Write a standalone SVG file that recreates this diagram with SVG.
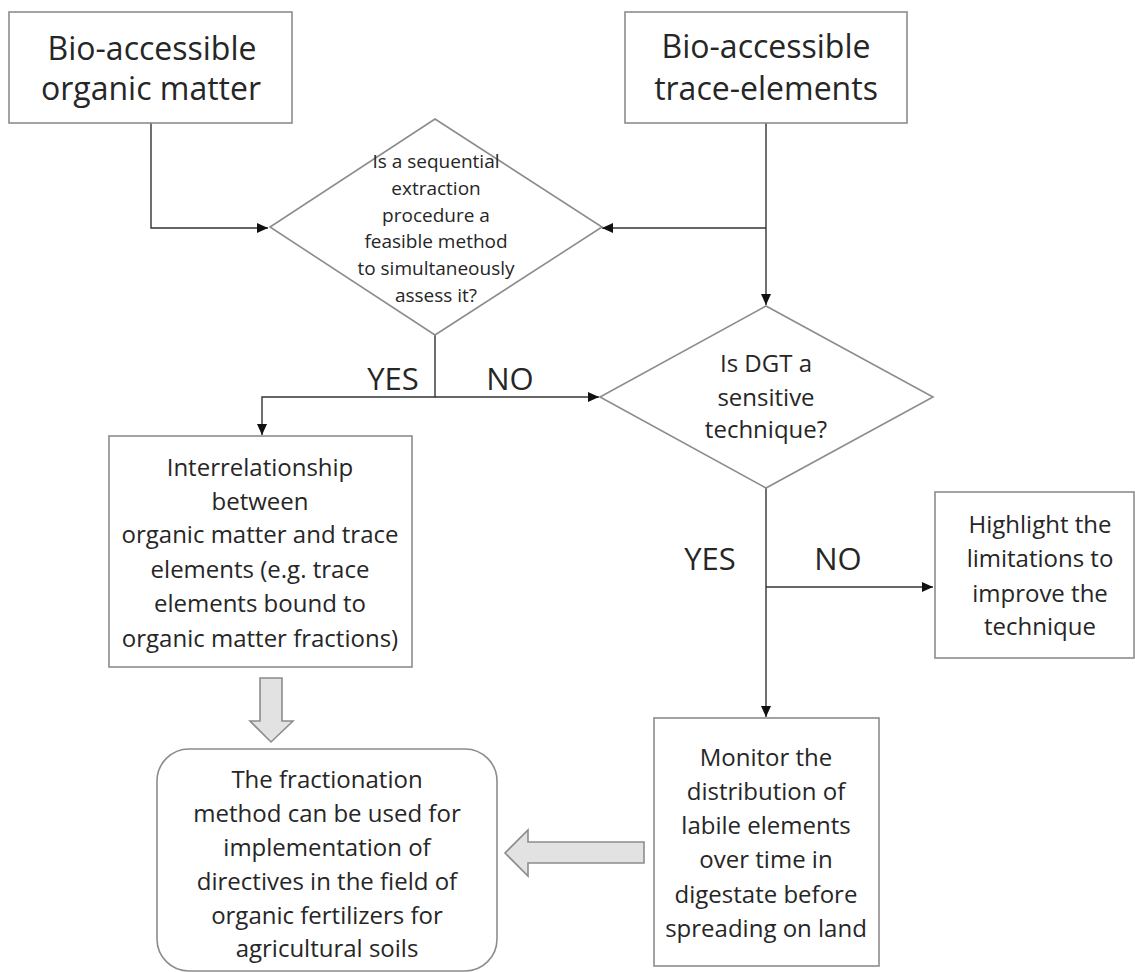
<svg xmlns="http://www.w3.org/2000/svg" width="1135" height="972" viewBox="0 0 1135 972">
<style>
.box{fill:#fff;stroke:#8c8c8c;stroke-width:1.6}
.dia{fill:#fff;stroke:#8c8c8c;stroke-width:1.6}
.big{fill:#e2e2e2;stroke:#8c8c8c;stroke-width:1.6}
.con{fill:none;stroke:#333;stroke-width:1.4}
text{font-family:"Open Sans","Noto Sans","Liberation Sans",sans-serif;fill:#262626;text-anchor:middle}
.t32{font-size:32px}
.t19{font-size:19px}
.t24{font-size:24px}
.lab{font-size:31px}
</style>
<defs>
<marker id="ah" markerUnits="userSpaceOnUse" markerWidth="12" markerHeight="10" refX="11" refY="5" orient="auto">
<path d="M0,0 L11,5 L0,10 Z" fill="#111"/>
</marker>
</defs>
<g id="connectors">
<path class="con" d="M151,123 V228 H268" marker-end="url(#ah)"/>
<path class="con" d="M766,123 V305" marker-end="url(#ah)"/>
<path class="con" d="M766,228 H602" marker-end="url(#ah)"/>
<path class="con" d="M435,335 V397 H262 V435" marker-end="url(#ah)"/>
<path class="con" d="M435,397 H599" marker-end="url(#ah)"/>
<path class="con" d="M766,488 V717" marker-end="url(#ah)"/>
<path class="con" d="M766,587 H933" marker-end="url(#ah)"/>
<polygon class="big" points="260,678 282,678 282,721 293,721 271,742 250,721 260,721"/>
<polygon class="big" points="644,842 644,863 528,863 528,876 505,853 528,830 528,842"/>
<text class="lab" x="393" y="390">YES</text>
<text class="lab" x="510" y="390">NO</text>
<text class="lab" x="710" y="570">YES</text>
<text class="lab" x="838" y="570">NO</text>
</g>
<g id="node-organic">
<rect class="box" x="9" y="12" width="283" height="111"/>
<text class="t32" x="152" y="60">Bio-accessible</text>
<text class="t32" x="151" y="100">organic matter</text>
</g>
<g id="node-trace">
<rect class="box" x="625" y="12" width="282" height="111"/>
<text class="t32" x="766" y="58">Bio-accessible</text>
<text class="t32" x="766" y="100">trace-elements</text>
</g>
<g id="node-decision1">
<polygon class="dia" points="435,119 602,227 435,335 270,227"/>
<text class="t19" x="436" y="168">Is a sequential</text>
<text class="t19" x="436" y="195">extraction</text>
<text class="t19" x="436" y="222">procedure a</text>
<text class="t19" x="436" y="248">feasible method</text>
<text class="t19" x="436" y="275">to simultaneously</text>
<text class="t19" x="436" y="302">assess it?</text>
</g>
<g id="node-decision2">
<polygon class="dia" points="766,306 933,397 766,488 600,397"/>
<text class="t24" x="766" y="372">Is DGT a</text>
<text class="t24" x="766" y="406">sensitive</text>
<text class="t24" x="766" y="438">technique?</text>
</g>
<g id="node-interrelationship">
<rect class="box" x="109" y="436" width="303" height="231"/>
<text class="t24" x="260" y="476">Interrelationship</text>
<text class="t24" x="260" y="510">between</text>
<text class="t24" x="260" y="543">organic matter and trace</text>
<text class="t24" x="260" y="578">elements (e.g. trace</text>
<text class="t24" x="260" y="612">elements bound to</text>
<text class="t24" x="260" y="647">organic matter fractions)</text>
</g>
<g id="node-highlight">
<rect class="box" x="935" y="492" width="199" height="166"/>
<text class="t24" x="1040" y="533">Highlight the</text>
<text class="t24" x="1040" y="567">limitations to</text>
<text class="t24" x="1040" y="602">improve the</text>
<text class="t24" x="1040" y="635">technique</text>
</g>
<g id="node-monitor">
<rect class="box" x="654" y="718" width="225" height="248"/>
<text class="t24" x="766" y="766">Monitor the</text>
<text class="t24" x="766" y="800">distribution of</text>
<text class="t24" x="766" y="834">labile elements</text>
<text class="t24" x="766" y="868">over time in</text>
<text class="t24" x="766" y="903">digestate before</text>
<text class="t24" x="766" y="937">spreading on land</text>
</g>
<g id="node-fractionation">
<rect class="box" x="157" y="749" width="340" height="222" rx="32" ry="32"/>
<text class="t24" x="327" y="788">The fractionation</text>
<text class="t24" x="327" y="822">method can be used for</text>
<text class="t24" x="327" y="856">implementation of</text>
<text class="t24" x="327" y="890">directives in the field of</text>
<text class="t24" x="327" y="924">organic fertilizers for</text>
<text class="t24" x="327" y="957">agricultural soils</text>
</g>
</svg>
